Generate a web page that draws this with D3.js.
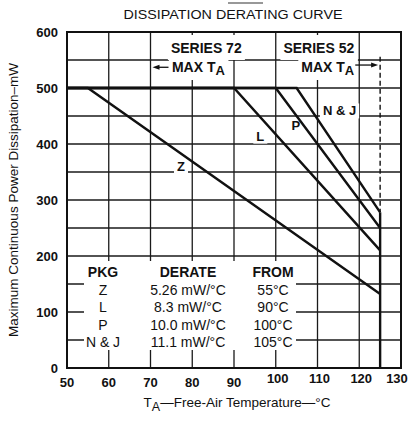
<!DOCTYPE html>
<html>
<head>
<meta charset="utf-8">
<script src="https://cdn.jsdelivr.net/npm/d3@7"></script>
<style>
  body { margin: 0; background: #fff; }
  text { font-family: "Liberation Sans", Arial, Helvetica, sans-serif; fill: #111; }
</style>
</head>
<body>
<script>
const pkgs = ["Z", "L", "P", "N & J"];
const derateLabels = ["5.26", "8.3", "10.0", "11.1"];   // mW/°C
const fromTemps = [55, 90, 100, 105];                    // °C where derating starts
const endPower = [132, 210, 250, 278];                   // mW at 125 °C
const maxPower = 500;
const maxTa72 = 70, maxTa52 = 125;
const xTicks = [50, 60, 70, 80, 90, 100, 110, 120, 130];
const yTicks = [0, 100, 200, 300, 400, 500, 600];

const W = 410, H = 423;
const svg = d3.select("body").append("svg").attr("width", W).attr("height", H);

const x = d3.scaleLinear().domain([50, 130]).range([67, 401]);
const y = d3.scaleLinear().domain([0, 600]).range([368, 32]);

// grid
const grid = svg.append("g").attr("stroke", "#1a1a1a").attr("stroke-width", 1.3);
grid.append("g").selectAll("line")
  .data(d3.range(60, 130, 10))
  .join("line")
    .attr("x1", d => x(d)).attr("x2", d => x(d))
    .attr("y1", y(0)).attr("y2", y(600));
grid.append("g").selectAll("line")
  .data(d3.range(50, 600, 50))
  .join("line")
    .attr("x1", x(50)).attr("x2", x(130))
    .attr("y1", d => y(d)).attr("y2", d => y(d));

// white patches behind the labels
const bg = svg.append("g").attr("fill", "#fff");
const marks = svg.append("g");
const labels = svg.append("g");

function patch(t, l, r, top, bot) {
  const b = t.node().getBBox();
  bg.append("rect")
    .attr("x", b.x - l).attr("y", b.y - top)
    .attr("width", b.width + l + r).attr("height", b.height + top + bot);
}

// frame
svg.append("rect")
  .attr("x", x(50)).attr("y", y(600))
  .attr("width", x(130) - x(50)).attr("height", y(0) - y(600))
  .attr("fill", "none").attr("stroke", "#111").attr("stroke-width", 2);

// derating curves
const line = d3.line().x(d => x(d[0])).y(d => y(d[1]));
marks.selectAll("path.curve")
  .data(pkgs.map((p, i) => [[50, maxPower], [fromTemps[i], maxPower], [maxTa52, endPower[i]]]))
  .join("path")
    .attr("class", "curve")
    .attr("d", line)
    .attr("fill", "none").attr("stroke", "#111").attr("stroke-width", 2.4)
    .attr("stroke-linejoin", "miter");

marks.append("line")
  .attr("x1", x(maxTa52)).attr("x2", x(maxTa52))
  .attr("y1", y(d3.max(endPower))).attr("y2", y(0))
  .attr("stroke", "#111").attr("stroke-width", 2.4);
marks.append("line")
  .attr("x1", x(maxTa52)).attr("x2", x(maxTa52))
  .attr("y1", y(556)).attr("y2", y(d3.max(endPower)))
  .attr("stroke", "#111").attr("stroke-width", 1.4).attr("stroke-dasharray", "5,3");

// arrows to max TA
function arrow(x1, x2, yy) {
  const dir = Math.sign(x2 - x1);
  marks.append("line").attr("x1", x1).attr("x2", x2 - dir * 5).attr("y1", yy).attr("y2", yy)
    .attr("stroke", "#111").attr("stroke-width", 1.3);
  marks.append("path")
    .attr("d", `M${x2},${yy} L${x2 - dir * 7},${yy - 2.5} L${x2 - dir * 7},${yy + 2.5} Z`)
    .attr("fill", "#111");
}
arrow(x(maxTa72) + 18, x(maxTa72) + 2, y(537));
arrow(x(120) - 4, x(maxTa52) - 2, y(541));

// title
svg.append("text")
  .attr("x", 233).attr("y", 18.5).attr("text-anchor", "middle")
  .attr("font-size", 12.5).attr("textLength", 219).attr("lengthAdjust", "spacingAndGlyphs")
  .text("DISSIPATION DERATING CURVE");
svg.append("line").attr("x1", 228).attr("x2", 263).attr("y1", 3).attr("y2", 3)
  .attr("stroke", "#333").attr("stroke-width", 1.2);

// y ticks
svg.append("g").selectAll("text")
  .data(yTicks)
  .join("text")
    .attr("x", 58).attr("y", d => y(d)).attr("dy", "0.36em")
    .attr("text-anchor", "end").attr("font-size", 13).attr("font-weight", "bold")
    .text(d => d);

// x ticks (the last one kept inside the page edge)
svg.append("g").selectAll("text")
  .data(xTicks)
  .join("text")
    .attr("x", d => Math.min(x(d) + (d >= 100 ? 2 : 0), W - 13))
    .attr("y", d => d >= 100 ? 383 : 387)
    .attr("text-anchor", "middle").attr("font-size", 13).attr("font-weight", "bold")
    .text(d => d);

// axis titles
svg.append("text")
  .attr("transform", `translate(17.5,${(53 + 347) / 2}) rotate(-90)`)
  .attr("text-anchor", "middle").attr("font-size", 13.5)
  .text("Maximum Continuous Power Dissipation\u2013mW");

const xt = svg.append("text")
  .attr("x", 237).attr("y", 407).attr("text-anchor", "middle").attr("font-size", 13.5);
xt.append("tspan").text("T");
xt.append("tspan").attr("dy", 4).attr("font-size", 12.5).text("A");
xt.append("tspan").attr("dy", -4).text("\u2014Free-Air Temperature\u2014\u00b0C");

// series labels
function seriesLabel(name, xr, anchor) {
  const s = labels.append("text").attr("x", xr).attr("y", 53)
    .attr("text-anchor", anchor).attr("font-size", 14).attr("font-weight", "bold").text(name);
  patch(s, 3, 3, 5, 4);
  const m = labels.append("text").attr("x", anchor === "end" ? xr : xr + 1).attr("y", 72)
    .attr("text-anchor", anchor).attr("font-size", 14).attr("font-weight", "bold");
  m.append("tspan").text("MAX T");
  m.append("tspan").attr("dy", 3).attr("font-size", 13).text("A");
  patch(m, 3, 3, 2, 2);
}
seriesLabel("SERIES 72", x(75) - 0.5, "start");
seriesLabel("SERIES 52", x(120) - 5, "end");

// curve labels
const curveLabelPos = [[77.3, 351], [96.3, 406], [104.8, 425], [111.3, 451]];
pkgs.forEach((p, i) => {
  const t = labels.append("text")
    .attr("x", x(curveLabelPos[i][0])).attr("y", y(curveLabelPos[i][1]))
    .attr("text-anchor", i === 3 ? "start" : "middle")
    .attr("font-size", 13).attr("font-weight", "bold").text(p);
  patch(t, 3, 3, 0, 0);
});

// legend table
bg.append("rect").attr("x", 84).attr("y", 261).attr("width", 212).attr("height", 89);
const cols = [103, 188, 273];
const heads = ["PKG", "DERATE", "FROM"];
labels.append("g").selectAll("text")
  .data(heads)
  .join("text")
    .attr("x", (d, i) => cols[i]).attr("y", 277)
    .attr("text-anchor", "middle").attr("font-size", 14).attr("font-weight", "bold")
    .text(d => d);
const rows = labels.append("g").selectAll("g")
  .data(pkgs)
  .join("g")
    .attr("transform", (d, i) => `translate(0,${295 + i * 17.4})`);
rows.append("text").attr("x", cols[0]).attr("text-anchor", "middle")
  .attr("font-size", 14).text(d => d);
rows.append("text").attr("x", cols[1]).attr("text-anchor", "middle")
  .attr("font-size", 14).text((d, i) => `${derateLabels[i]} mW/\u00b0C`);
rows.append("text").attr("x", cols[2]).attr("text-anchor", "middle")
  .attr("font-size", 14).text((d, i) => `${fromTemps[i]}\u00b0C`);
</script>
</body>
</html>
